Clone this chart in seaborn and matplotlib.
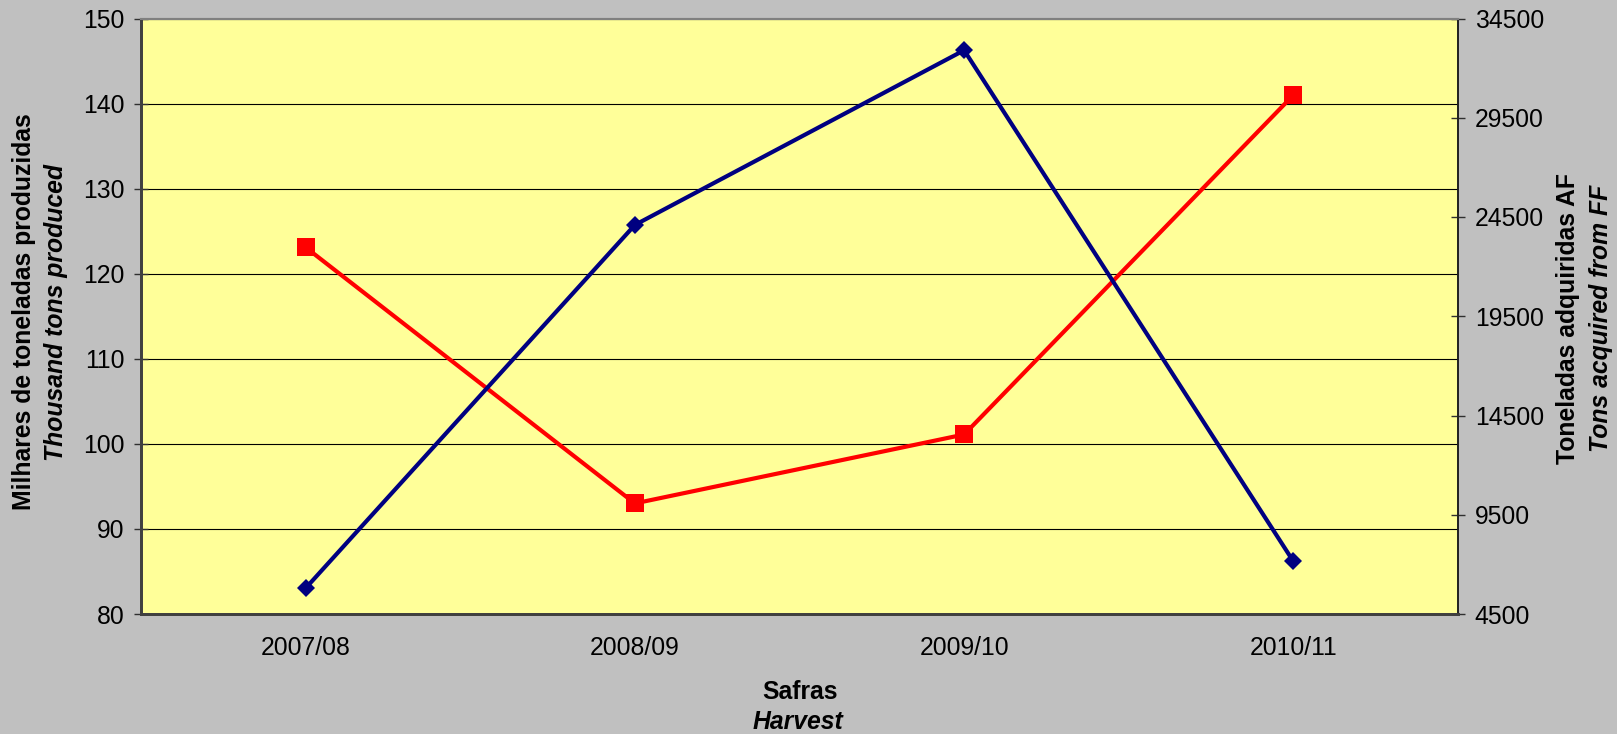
import pandas as pd
import matplotlib
matplotlib.use("Agg")
import matplotlib.pyplot as plt
import seaborn as sns

# data
safras = ["2007/08", "2008/09", "2009/10", "2010/11"]
producao = [123.1, 93.0, 101.1, 141.0]           # thousand tons produced (left axis)
adquiridas = [5800, 24100, 32900, 7150]          # tons acquired from FF (right axis)
left_ticks = [80, 90, 100, 110, 120, 130, 140, 150]
right_ticks = [4500, 9500, 14500, 19500, 24500, 29500, 34500]

df = pd.DataFrame({"safra": safras, "producao": producao, "adquiridas": adquiridas})

sns.set_theme(style="white")
plt.rcParams["font.family"] = ["Liberation Sans", "DejaVu Sans"]
plt.rcParams["text.color"] = "black"

fig, ax = plt.subplots(figsize=(16.17, 7.34), dpi=100)
fig.patch.set_facecolor("#C0C0C0")
ax.set_facecolor("#FFFF99")
fig.subplots_adjust(left=141 / 1617, right=1458 / 1617, top=1 - 18.5 / 734, bottom=1 - 614 / 734)

sns.lineplot(data=df, x="safra", y="producao", ax=ax, color="#FF0000", lw=3,
             marker="s", markersize=13.5, markeredgewidth=0, zorder=3)
ax.set_ylim(80, 150)
ax.set_yticks(left_ticks)
ax.set_xlim(-0.5, 3.5)
ax.grid(axis="y", color="black", lw=0.8)
ax.set_axisbelow(True)

ax2 = ax.twinx()
sns.lineplot(data=df, x="safra", y="adquiridas", ax=ax2, color="#000080", lw=3,
             marker="D", markersize=9.5, markeredgewidth=0, zorder=4)
ax2.set_ylim(4500, 34500)
ax2.set_yticks(right_ticks)
ax2.set_xlim(-0.5, 3.5)

# category labels centred, tick marks between categories
ax.set_xticks([-0.5, 0.5, 1.5, 2.5, 3.5])
ax.set_xticklabels([])
ax.set_xticks(range(len(safras)), minor=True)
ax.set_xticklabels(safras, minor=True)
ax.tick_params(axis="x", which="major", direction="inout", length=10, width=1, color="#303030")
ax.tick_params(axis="x", which="minor", length=0, pad=16, labelsize=17.8, labelcolor="black")
ax.tick_params(axis="y", direction="inout", length=10, width=1, color="#303030",
               labelsize=17.8, pad=7, labelcolor="black", left=True)
ax2.tick_params(axis="y", direction="inout", length=10, width=1, color="#303030",
                labelsize=17.8, pad=7, labelcolor="black", right=True)

ax.set_xlabel("")
ax.set_ylabel("")
ax2.set_ylabel("")

for a in (ax, ax2):
    a.spines["left"].set_color("#404040")
    a.spines["left"].set_linewidth(2)
    a.spines["bottom"].set_color("#404040")
    a.spines["bottom"].set_linewidth(2)
    a.spines["top"].set_color("#808080")
    a.spines["top"].set_linewidth(1.5)
    a.spines["right"].set_color("#202020")
    a.spines["right"].set_linewidth(1.2)

if ax.get_legend():
    ax.get_legend().remove()
if ax2.get_legend():
    ax2.get_legend().remove()

# axis titles (two lines: Portuguese bold, English bold italic)
W, H = 1617, 734
fs = 17.8
fig.text(24 / W, 1 - 312 / H, "Milhares de toneladas produzidas", rotation=90,
         ha="center", va="center", fontsize=fs, fontweight="bold", color="black")
fig.text(56 / W, 1 - 312 / H, "Thousand tons produced", rotation=90,
         ha="center", va="center", fontsize=fs, fontweight="bold", fontstyle="italic", color="black")
fig.text(1568 / W, 1 - 318 / H, "Toneladas adquiridas AF", rotation=90,
         ha="center", va="center", fontsize=fs, fontweight="bold", color="black")
fig.text(1601 / W, 1 - 318 / H, "Tons acquired from FF", rotation=90,
         ha="center", va="center", fontsize=fs, fontweight="bold", fontstyle="italic", color="black")
fig.text(800 / W, 1 - 692 / H, "Safras", ha="center", va="center",
         fontsize=fs, fontweight="bold", color="black")
fig.text(798 / W, 1 - 722 / H, "Harvest", ha="center", va="center",
         fontsize=fs, fontweight="bold", fontstyle="italic", color="black")

fig.savefig("out.png", dpi=100, facecolor=fig.get_facecolor())
